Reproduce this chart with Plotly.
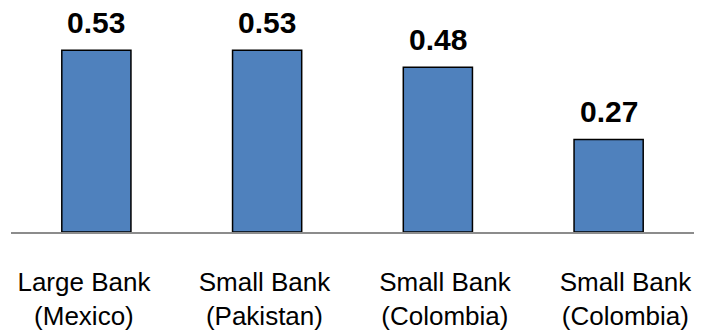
import plotly.graph_objects as go

categories = ["Large Bank<br>(Mexico)", "Small Bank<br>(Pakistan)", "Small Bank<br>(Colombia)", "Small Bank<br>(Colombia)"]
values = [0.53, 0.53, 0.48, 0.27]
value_labels = ["0.53", "0.53", "0.48", "0.27"]
positions = [0, 1, 2, 3]

fig = go.Figure()
fig.add_trace(go.Bar(
    x=positions, y=values,
    marker=dict(color="#4F81BD", line=dict(color="#000000", width=1.5)),
    width=0.405,
    hoverinfo="skip",
))
# invisible trace carrying the category tick labels
fig.add_trace(go.Scatter(
    x=positions, y=[0] * len(positions), xaxis="x2",
    mode="markers", marker=dict(opacity=0), hoverinfo="skip", showlegend=False,
))

for p, v, t in zip(positions, values, value_labels):
    fig.add_annotation(
        x=p, y=v, xref="x", yref="y", text="<b>%s</b>" % t,
        showarrow=False, yanchor="bottom", yshift=9,
        font=dict(family="Liberation Sans, Arial, sans-serif", size=30, color="#000000"),
    )

fig.update_layout(
    width=702, height=334,
    margin=dict(l=11, r=8, t=0, b=102),
    plot_bgcolor="white", paper_bgcolor="white",
    showlegend=False,
    xaxis=dict(
        range=[-0.5, 3.5], showticklabels=False, showgrid=False, zeroline=False,
        showline=True, linecolor="#8C8C8C", linewidth=2, ticks="",
        fixedrange=True,
    ),
    xaxis2=dict(
        overlaying="x", side="bottom", range=[-0.404, 3.38],
        tickmode="array", tickvals=positions, ticktext=categories,
        showgrid=False, zeroline=False, showline=False, ticks="",
        tickfont=dict(family="Liberation Sans, Arial, sans-serif", size=26, color="#000000"),
        ticklabelstandoff=32,
    ),
    yaxis=dict(range=[0, 0.6764], visible=False, fixedrange=True),
)

fig.write_html("out.html")
